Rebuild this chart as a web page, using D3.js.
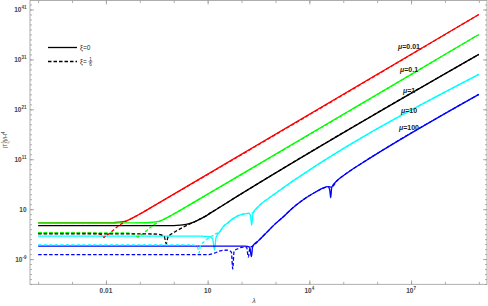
<!DOCTYPE html>
<html>
<head>
<meta charset="utf-8">
<script src="https://cdn.jsdelivr.net/npm/d3@7"></script>
<style>
  body { margin: 0; background: #fff; }
  text { font-family: "Liberation Sans", Arial, sans-serif; }
</style>
</head>
<body>
<svg id="chart" width="488" height="306"></svg>
<script>
// points are [log10 lambda, log10 |T|/H^4]
var mus = ["0.01", "0.1", "1", "10", "100"];
var colors = ["#ff0000", "#00ff00", "#000000", "#00ffff", "#0000ff"];

var red0 = [[-4,-1.75],[-1.8,-1.72],[-1.6,-1.6],[-1.45,-1.45],[-1.3,-1.05],[-1.1,-0.35],[-0.9,0.42],[-0.5,2.0],[9,40]];
var red6 = [[-4,-3.75],[-2.4,-3.78],[-2.2,-3.95],[-2.1,-4.3],[-2.06,-4.7],[-2.02,-4.4],[-1.9,-3.9],[-1.75,-3.0],[-1.6,-2.2],[-1.45,-1.55],[-1.3,-1.08],[-1.1,-0.35],[-0.9,0.42],[-0.5,2.0],[9,40]];

var green0 = [[-4,-1.75],[-0.8,-1.72],[-0.6,-1.6],[-0.45,-1.45],[-0.3,-1.05],[-0.1,-0.35],[0.1,0.42],[0.5,2.0],[9,36]];
var green6 = [[-4,-3.72],[-1.4,-3.75],[-1.2,-3.95],[-1.1,-4.3],[-1.06,-4.6],[-1.02,-4.4],[-0.9,-3.9],[-0.75,-3.0],[-0.6,-2.2],[-0.45,-1.55],[-0.3,-1.08],[-0.1,-0.35],[0.1,0.42],[0.5,2.0],[9,36]];

var black0 = [[-4,-2.3],[0,-2.28],[0.2,-2.2],[0.4,-2.0],[0.55,-1.7],[0.7,-1.25],[0.9,-0.55],[1.1,0.3],[1.5,2.0],[9,32]];
var black6 = [[-4,-3.95],[-0.6,-3.97],[-0.4,-4.1],[-0.28,-4.5],[-0.22,-5.9],[-0.17,-4.6],[0,-3.7],[0.2,-2.9],[0.4,-2.2],[0.6,-1.6],[0.75,-1.05],[0.9,-0.55],[1.1,0.3],[1.5,2.0],[9,32]];

var cyan0 = [[-4,-4.4],[0.8,-4.4],[1.05,-4.5],[1.15,-5.0],[1.2,-7.2],[1.25,-4.6],[1.35,-3.6],[1.45,-2.6],[1.6,-1.7],[1.75,-0.9],[1.9,-0.3],[2.05,0.0],[2.2,0.15],[2.26,-0.2],[2.3,-2.2],[2.34,0.3],[2.45,1.2],[2.6,2.2],[2.8,3.2],[9,28]];
var cyan6 = [[-4,-6.15],[0.5,-6.15],[0.65,-6.3],[0.72,-7.0],[0.75,-7.8],[0.78,-6.5],[0.9,-5.5],[1.05,-4.7],[1.15,-4.3],[1.25,-3.9],[1.35,-3.6],[1.45,-2.6],[1.6,-1.7],[1.75,-0.9],[1.9,-0.3],[2.05,0.0],[2.2,0.15],[2.34,0.3],[2.45,1.2],[2.6,2.2],[2.8,3.2],[9,28]];

var blue0 = [[-4,-6.4],[2.1,-6.42],[2.24,-6.6],[2.29,-8.5],[2.33,-6.4],[2.5,-5.3],[2.75,-3.6],[3.0,-1.9],[3.25,-0.4],[3.45,0.9],[3.7,2.3],[3.95,3.5],[4.2,4.5],[4.4,5.2],[4.55,5.5],[4.6,4.9],[4.63,3.3],[4.66,5.4],[4.8,6.6],[5.0,7.7],[5.25,8.9],[5.5,10.0],[9,24]];
var blue6 = [[-4,-8.1],[1.0,-8.1],[1.2,-7.8],[1.4,-7.3],[1.6,-7.2],[1.7,-7.6],[1.74,-11.0],[1.78,-7.4],[1.9,-6.9],[2.05,-6.6],[2.15,-6.6],[2.2,-8.6],[2.25,-6.6],[2.33,-6.4],[2.5,-5.3],[2.75,-3.6],[3.0,-1.9],[3.25,-0.4],[3.45,0.9],[3.7,2.3],[3.95,3.5],[4.2,4.5],[4.4,5.2],[4.55,5.5],[4.66,5.4],[4.8,6.6],[5.0,7.7],[5.25,8.9],[5.5,10.0],[9,24]];

var solidSets = [red0, green0, black0, cyan0, blue0];
var dashedSets = [red6, green6, black6, cyan6, blue6];

var xLabelExp = [-2, 1, 4, 7];
var xLabels = [["0.01", ""], ["10", ""], ["10", "4"], ["10", "7"]];
var yLabelExp = [41, 31, 21, 11, 1, -9];
var yLabels = [["10", "41"], ["10", "31"], ["10", "21"], ["10", "11"], ["10", ""], ["10", "-9"]];
var muLabelY = [49, 71.5, 92.5, 112.5, 130];

var svg = d3.select("#chart");
var mLeft = 30, mRight = 487, mTop = 0.5, mBottom = 284.3;

var x = d3.scaleLog().domain([Math.pow(10, -4.24), Math.pow(10, 9.24)]).range([mLeft, mRight]);
var y = d3.scaleLog().domain([Math.pow(10, -14.05), Math.pow(10, 42.8)]).range([mBottom, mTop]);

var line = d3.line()
    .x(function(d) { return x(Math.pow(10, d[0])); })
    .y(function(d) { return y(Math.pow(10, d[1])); })
    .curve(d3.curveMonotoneX);

var minorX = d3.range(-4, 10).map(function(e) { return Math.pow(10, e); });
var majorX = xLabelExp.map(function(e) { return Math.pow(10, e); });
var minorY = d3.range(-14, 43).map(function(e) { return Math.pow(10, e); });
var majorY = yLabelExp.map(function(e) { return Math.pow(10, e); });

function frameAxis(axis, tr) {
    var g = svg.append("g").attr("transform", tr).call(axis);
    g.select(".domain").remove();
    g.selectAll("line").attr("stroke", "#9a9a9a").attr("stroke-width", 0.8);
    return g;
}

// inward ticks on all four sides
frameAxis(d3.axisBottom(x).tickValues(minorX).tickSize(-2.5).tickFormat(""), "translate(0," + mBottom + ")");
frameAxis(d3.axisBottom(x).tickValues(majorX).tickSize(-4).tickFormat(""), "translate(0," + mBottom + ")");
frameAxis(d3.axisTop(x).tickValues(minorX).tickSize(-2.5).tickFormat(""), "translate(0," + mTop + ")");
frameAxis(d3.axisTop(x).tickValues(majorX).tickSize(-4).tickFormat(""), "translate(0," + mTop + ")");
frameAxis(d3.axisLeft(y).tickValues(minorY).tickSize(-2).tickFormat(""), "translate(" + mLeft + ",0)");
frameAxis(d3.axisLeft(y).tickValues(majorY).tickSize(-4).tickFormat(""), "translate(" + mLeft + ",0)");
frameAxis(d3.axisRight(y).tickValues(minorY).tickSize(-2).tickFormat(""), "translate(" + mRight + ",0)");
frameAxis(d3.axisRight(y).tickValues(majorY).tickSize(-4).tickFormat(""), "translate(" + mRight + ",0)");

svg.append("rect")
    .attr("x", mLeft).attr("y", mTop)
    .attr("width", mRight - mLeft).attr("height", mBottom - mTop)
    .attr("fill", "none").attr("stroke", "#9a9a9a").attr("stroke-width", 0.8);

// tick labels
var xl = svg.append("g").selectAll("text").data(xLabels).enter().append("text")
    .attr("x", function(d, i) { return x(majorX[i]); })
    .attr("y", 292.5)
    .attr("text-anchor", "middle")
    .attr("font-size", 6.5).attr("font-weight", "bold").attr("fill", "#444");
xl.append("tspan").text(function(d) { return d[0]; });
xl.append("tspan").attr("dy", -2.5).attr("font-size", 4.5).text(function(d) { return d[1]; });

var yl = svg.append("g").selectAll("text").data(yLabels).enter().append("text")
    .attr("x", 26.5)
    .attr("y", function(d, i) { return y(majorY[i]) + 2.5; })
    .attr("text-anchor", "end")
    .attr("font-size", 6.5).attr("font-weight", "bold").attr("fill", "#444");
yl.append("tspan").text(function(d) { return d[0]; });
yl.append("tspan").attr("dy", -2.5).attr("font-size", 4.5).text(function(d) { return d[1]; });

// axis titles
svg.append("text").attr("x", 254).attr("y", 303).attr("text-anchor", "middle")
    .attr("font-size", 7).attr("font-style", "italic").attr("fill", "#444").text("λ");

var yt = svg.append("text").attr("transform", "translate(6.5,140) rotate(-90)")
    .attr("text-anchor", "middle").attr("font-size", 6).attr("fill", "#444");
yt.append("tspan").text("|T");
yt.append("tspan").attr("dy", -2).attr("font-size", 4.5).text("λ");
yt.append("tspan").attr("dx", -2.4).attr("dy", 4).attr("font-size", 4.5).text("ξ");
yt.append("tspan").attr("dy", -2).text("|/H");
yt.append("tspan").attr("dy", -2).attr("font-size", 4.5).text("4");

// curves
var plot = svg.append("g");
solidSets.forEach(function(s, i) {
    plot.append("path").datum(s).attr("d", line)
        .attr("fill", "none").attr("stroke", colors[i]).attr("stroke-width", 1.3);
});
dashedSets.forEach(function(s, i) {
    plot.append("path").datum(s).attr("d", line)
        .attr("fill", "none").attr("stroke", colors[i]).attr("stroke-width", 1.3)
        .attr("stroke-dasharray", "3.5,2");
});

// mu labels
svg.append("g").selectAll("text").data(mus).enter().append("text")
    .attr("x", 409).attr("y", function(d, i) { return muLabelY[i]; })
    .attr("text-anchor", "middle").attr("font-size", 7).attr("font-weight", "bold").attr("fill", "#222")
    .html(function(d) { return '<tspan font-style="italic">μ</tspan>=' + d; });

// legend
var lg = svg.append("g");
lg.append("line").attr("x1", 48).attr("x2", 77).attr("y1", 47.5).attr("y2", 47.5)
    .attr("stroke", "#000").attr("stroke-width", 1.3);
lg.append("line").attr("x1", 48).attr("x2", 77).attr("y1", 61.5).attr("y2", 61.5)
    .attr("stroke", "#000").attr("stroke-width", 1.3).attr("stroke-dasharray", "3.5,2");
lg.append("text").attr("x", 80).attr("y", 50).attr("font-size", 6.5).attr("fill", "#222").text("ξ=0");
lg.append("text").attr("x", 80).attr("y", 64).attr("font-size", 6.5).attr("fill", "#222").text("ξ=");
lg.append("text").attr("x", 90.5).attr("y", 60.5).attr("text-anchor", "middle").attr("font-size", 4.5).attr("fill", "#222").text("1");
lg.append("line").attr("x1", 88.5).attr("x2", 92.5).attr("y1", 61.8).attr("y2", 61.8).attr("stroke", "#222").attr("stroke-width", 0.5);
lg.append("text").attr("x", 90.5).attr("y", 66.3).attr("text-anchor", "middle").attr("font-size", 4.5).attr("fill", "#222").text("6");
</script>
</body>
</html>
